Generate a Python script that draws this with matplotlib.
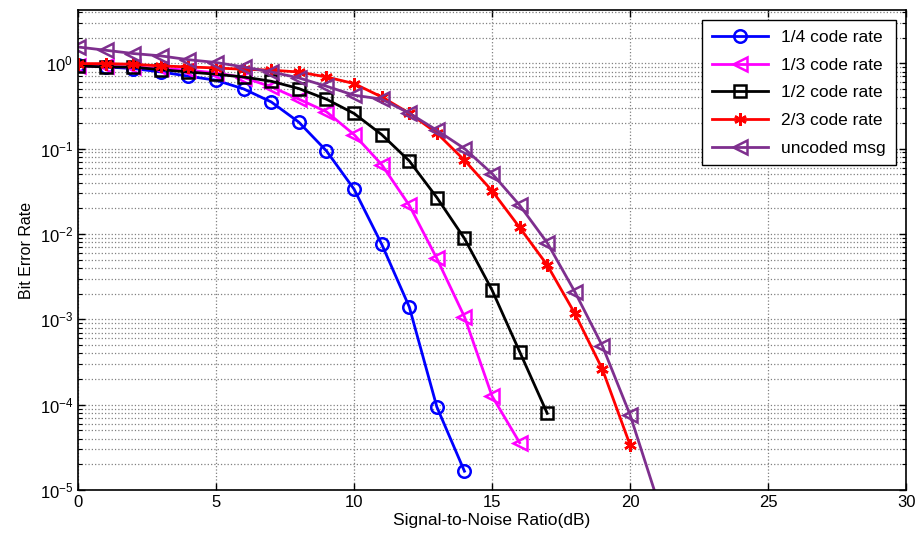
import numpy as np
import matplotlib
matplotlib.use("Agg")
import matplotlib.pyplot as plt
from matplotlib.ticker import LogLocator, NullFormatter, FixedLocator

plt.rcParams['font.family'] = ['Liberation Sans', 'DejaVu Sans']
plt.rcParams['mathtext.fontset'] = 'custom'
plt.rcParams['mathtext.rm'] = 'Liberation Sans'
plt.rcParams['mathtext.it'] = 'Liberation Sans'

snr_14 = list(range(0, 15))
ber_14 = [0.947, 0.905, 0.867, 0.791, 0.705, 0.632, 0.50, 0.352, 0.204, 0.094,
          0.0335, 0.0076, 0.0014, 9.4e-5, 1.66e-5]

snr_13 = list(range(0, 17))
ber_13 = [0.93, 0.92, 0.90, 0.87, 0.83, 0.77, 0.68, 0.53, 0.38, 0.27, 0.146,
          0.065, 0.0217, 0.00516, 0.00107, 1.26e-4, 3.58e-5]

snr_12 = list(range(0, 18))
ber_12 = [0.93, 0.905, 0.90, 0.84, 0.79, 0.743, 0.69, 0.615, 0.505, 0.379,
          0.258, 0.146, 0.0718, 0.0267, 0.00885, 0.0022, 4.17e-4, 7.9e-5]

snr_23 = list(range(0, 21))
ber_23 = [0.99, 0.99, 0.973, 0.93, 0.905, 0.88, 0.85, 0.83, 0.79, 0.69, 0.578,
          0.403, 0.26, 0.152, 0.073, 0.032, 0.0119, 0.00431, 0.00117, 2.59e-4,
          3.37e-5]

snr_unc = list(range(0, 22))
ber_unc = [1.55, 1.42, 1.30, 1.22, 1.10, 1.02, 0.905, 0.79, 0.673, 0.538, 0.422,
           0.38, 0.26, 0.164, 0.10, 0.051, 0.0217, 0.00787, 0.0021, 4.86e-4,
           7.6e-5, 7.5e-6]

labels = ['1/4 code rate', '1/3 code rate', '1/2 code rate', '2/3 code rate', 'uncoded msg']

fig = plt.figure(figsize=(9.18, 5.46), dpi=100)
ax = fig.add_axes([0.085, 0.1026, 0.902, 0.879])

lw = 2.0
ax.semilogy(snr_14, ber_14, color='#0000FF', lw=lw, marker='o', ms=9,
            mfc='none', mec='#0000FF', mew=1.8, label=labels[0])
ax.semilogy(snr_13, ber_13, color='#FF00FF', lw=lw, marker='<', ms=10,
            mfc='none', mec='#FF00FF', mew=1.8, label=labels[1])
ax.semilogy(snr_12, ber_12, color='black', lw=lw, marker='s', ms=9,
            mfc='none', mec='black', mew=1.8, label=labels[2])
ax.semilogy(snr_23, ber_23, color='#FF0000', lw=lw, marker=(6, 2, 0), ms=9,
            mec='#FF0000', mew=1.8, label=labels[3])
ax.semilogy(snr_unc, ber_unc, color='#7E2F8E', lw=lw, marker='<', ms=10,
            mfc='none', mec='#7E2F8E', mew=1.8, label=labels[4])

ax.set_xlim(0, 30)
ax.set_ylim(1e-5, 4.2)
ax.xaxis.set_major_locator(FixedLocator([0, 5, 10, 15, 20, 25, 30]))
ax.yaxis.set_major_locator(LogLocator(base=10, numticks=10))
ax.yaxis.set_minor_locator(LogLocator(base=10, subs=np.arange(2, 10), numticks=20))
ax.yaxis.set_minor_formatter(NullFormatter())

ax.grid(True, which='major', axis='both', color='#808080', ls=':', lw=0.9)
ax.grid(True, which='minor', axis='y', color='#808080', ls=':', lw=0.9)

ax.tick_params(which='both', direction='in', top=True, right=True, labelsize=12)
ax.tick_params(which='major', length=5, width=1)
ax.tick_params(which='minor', length=3, width=0.8)
for s in ax.spines.values():
    s.set_linewidth(1.2)

ax.set_xlabel('Signal-to-Noise Ratio(dB)', fontsize=12.5, labelpad=2)
ax.set_ylabel('Bit Error Rate', fontsize=11.5, labelpad=4)

leg = ax.legend(loc='upper right', fontsize=12.5, frameon=True, fancybox=False,
                edgecolor='black', framealpha=1, handlelength=3.2,
                borderaxespad=0.6, labelspacing=0.72, borderpad=0.55)
leg.get_frame().set_linewidth(1.0)

fig.savefig('out.png', dpi=100)
